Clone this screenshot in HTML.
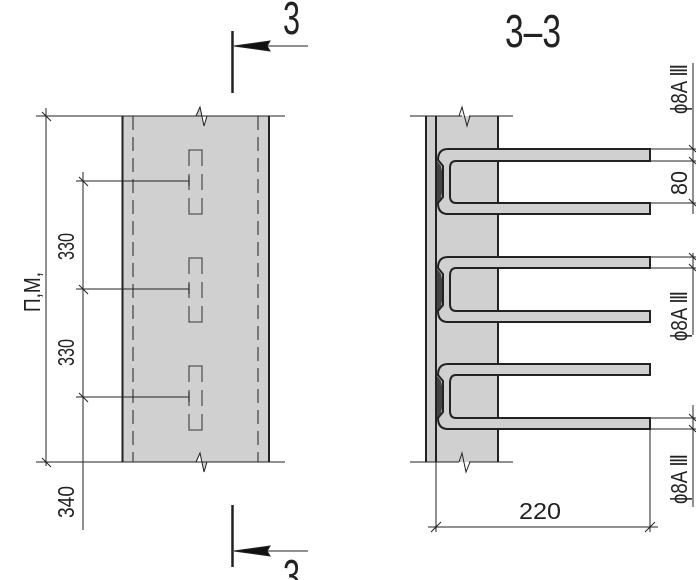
<!DOCTYPE html>
<html><head><meta charset="utf-8"><style>html,body{margin:0;padding:0;background:#fff}svg{display:block}text{font-family:"Liberation Sans",sans-serif;fill:#222}</style></head>
<body>
<svg width="696" height="580" viewBox="0 0 696 580" xmlns="http://www.w3.org/2000/svg">
<g stroke="#222" fill="none">
<path d="M122,116 H196 L200,107 L204,126 L207,116 H269 V462 H207 L204,472 L200,453 L196,462 H122 Z" fill="#d0d0d0" stroke="none"/>
<line x1="36" y1="116" x2="285" y2="116" stroke-width="1"/>
<line x1="36" y1="462" x2="285" y2="462" stroke-width="1"/>
<path d="M196,116 L200,107 L204,126 L207,116" stroke-width="1"/>
<path d="M196,462 L200,453 L204,472 L207,462" stroke="#222" stroke-width="1"/>
<line x1="122.5" y1="116" x2="122.5" y2="462" stroke-width="2"/>
<line x1="269" y1="116" x2="269" y2="462" stroke-width="2"/>
<line x1="133" y1="116" x2="133" y2="462" stroke-width="1" stroke-dasharray="14,7"/>
<line x1="258" y1="116" x2="258" y2="462" stroke-width="1" stroke-dasharray="14,7"/>
<line x1="46" y1="108" x2="46" y2="466" stroke-width="1"/>
<line x1="42" y1="112" x2="51" y2="121"/><line x1="42" y1="458" x2="51" y2="467"/>
<line x1="83" y1="172" x2="83" y2="530" stroke-width="1"/>
<line x1="76" y1="181" x2="189" y2="181"/><line x1="76" y1="289" x2="189" y2="289"/><line x1="76" y1="397" x2="189" y2="397"/>
<line x1="79" y1="177" x2="88" y2="186"/><line x1="79" y1="285" x2="88" y2="294"/><line x1="79" y1="393" x2="88" y2="402"/>
<g stroke="#555" stroke-width="1.3">
<path d="M189,166 V150 H202 V166 M189,174 V190 M202,174 V190 M189,198 V214 H202 V198"/>
<path d="M189,274 V258 H202 V274 M189,282 V298 M202,282 V298 M189,306 V322 H202 V306"/>
<path d="M189,382 V366 H202 V382 M189,390 V406 M202,390 V406 M189,414 V430 H202 V414"/>
</g>
<line x1="189" y1="176" x2="189" y2="186"/><line x1="189" y1="284" x2="189" y2="294"/><line x1="189" y1="392" x2="189" y2="402"/>
<line x1="232.5" y1="31" x2="232.5" y2="93" stroke-width="2.5"/>
<line x1="234" y1="46" x2="308" y2="46" stroke-width="1"/>
<path d="M234,46 L270,41 L267,46 L270,51 Z" fill="#111"/>
<line x1="232.5" y1="505" x2="232.5" y2="567" stroke-width="2.5"/>
<line x1="234" y1="551" x2="308" y2="551" stroke-width="1"/>
<path d="M234,551 L270,546 L267,551 L270,556 Z" fill="#111"/>
<rect x="425" y="116" width="73" height="346" fill="#d0d0d0" stroke="none"/>
<line x1="410" y1="116" x2="462" y2="116"/><line x1="469" y1="116" x2="513" y2="116"/>
<path d="M459,116 L462,107 L467,126 L470,116" />
<line x1="410" y1="462" x2="459" y2="462"/><line x1="469" y1="462" x2="513" y2="462"/>
<path d="M459,462 L462,453 L466,472 L470,462" />
<line x1="426" y1="116" x2="426" y2="462" stroke-width="2"/>
<line x1="436" y1="116" x2="436" y2="462" stroke-width="2"/>
<line x1="498" y1="116" x2="498" y2="462" stroke-width="2"/>
<g fill="#444" stroke="none">
<path d="M437,161 L441,166 L443,176 V188 L441,198 L437,203 Z"/>
<path d="M437,269 L441,274 L443,284 V296 L441,306 L437,311 Z"/>
<path d="M437,376 L441,381 L443,391 V403 L441,413 L437,418 Z"/>
</g>
<g stroke-width="2" fill="#d0d0d0">
<path d="M650,149 H448 Q438,149 438,160 L443,166 V197 L438,203 Q438,214 448,214 H650 V203 H456 Q450,203 450,196 V168 Q450,161 456,161 H650 Z"/>
<path d="M650,257 H448 Q438,257 438,268 L443,274 V305 L438,311 Q438,322 448,322 H650 V311 H456 Q450,311 450,304 V276 Q450,268 456,268 H650 Z"/>
<path d="M650,364 H448 Q438,364 438,375 L443,381 V412 L438,418 Q438,429 448,429 H650 V418 H456 Q450,418 450,411 V383 Q450,375 456,375 H650 Z"/>
</g>
<g stroke-width="1">
<line x1="693" y1="63" x2="693" y2="214"/>
<line x1="693" y1="253" x2="693" y2="335"/>
<line x1="693" y1="405" x2="693" y2="507"/>
<line x1="650" y1="149" x2="696" y2="149"/><line x1="650" y1="161" x2="696" y2="161"/><line x1="650" y1="203" x2="696" y2="203"/>
<line x1="650" y1="257" x2="696" y2="257"/><line x1="650" y1="268" x2="696" y2="268"/>
<line x1="650" y1="418" x2="696" y2="418"/><line x1="650" y1="429" x2="696" y2="429"/>
<line x1="689" y1="145" x2="696" y2="152"/><line x1="689" y1="157" x2="696" y2="164"/><line x1="689" y1="199" x2="696" y2="206"/>
<line x1="689" y1="253" x2="696" y2="260"/><line x1="689" y1="264" x2="696" y2="271"/>
<line x1="689" y1="414" x2="696" y2="421"/><line x1="689" y1="425" x2="696" y2="432"/>
<line x1="436" y1="462" x2="436" y2="532"/>
<line x1="650" y1="429" x2="650" y2="532"/>
<line x1="428" y1="527" x2="658" y2="527"/>
<line x1="431" y1="532" x2="441" y2="522"/><line x1="645" y1="532" x2="655" y2="522"/>
</g>
</g>
<text x="283" y="34" font-size="46" textLength="17" lengthAdjust="spacingAndGlyphs">3</text>
<text x="283" y="592" font-size="46" textLength="17" lengthAdjust="spacingAndGlyphs">3</text>
<text x="505" y="47" font-size="46" textLength="56" lengthAdjust="spacingAndGlyphs">3–3</text>
<text x="519" y="519" font-size="23" textLength="42" lengthAdjust="spacingAndGlyphs">220</text>
<g font-size="23">
<text transform="translate(74,260) rotate(-90)" textLength="27" lengthAdjust="spacingAndGlyphs">330</text>
<text transform="translate(74,366) rotate(-90)" textLength="27" lengthAdjust="spacingAndGlyphs">330</text>
<text transform="translate(74,518) rotate(-90)" textLength="32" lengthAdjust="spacingAndGlyphs">340</text>
<text transform="translate(40,312) rotate(-90)" textLength="40" lengthAdjust="spacingAndGlyphs">П,М,</text>
<text transform="translate(687,195) rotate(-90)" textLength="24" lengthAdjust="spacingAndGlyphs">80</text>
<text transform="translate(687,114) rotate(-90)" textLength="50" lengthAdjust="spacingAndGlyphs">ϕ8A Ⅲ</text>
<text transform="translate(687,341) rotate(-90)" textLength="50" lengthAdjust="spacingAndGlyphs">ϕ8A Ⅲ</text>
<text transform="translate(687,504) rotate(-90)" textLength="50" lengthAdjust="spacingAndGlyphs">ϕ8A Ⅲ</text>
</g>
</svg>
</body></html>
